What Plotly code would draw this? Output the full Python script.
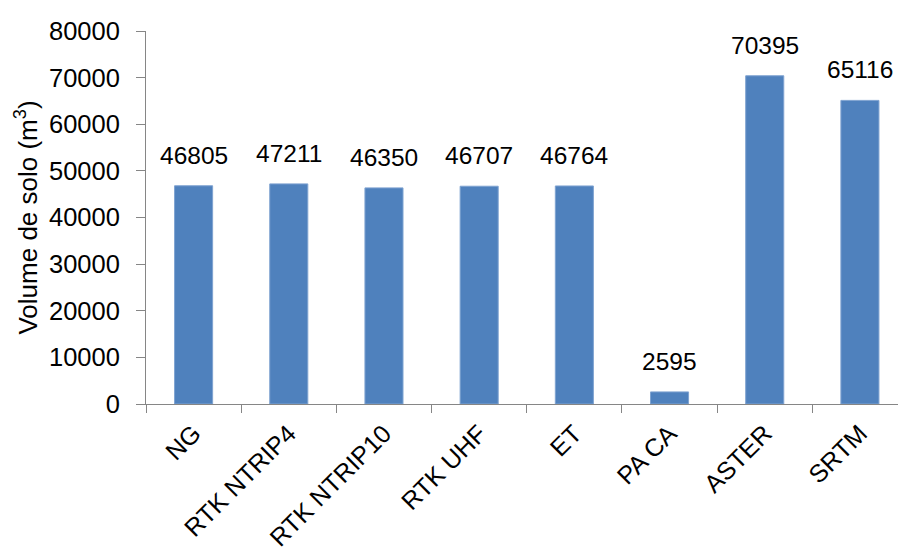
import plotly.graph_objects as go

categories = ["NG", "RTK NTRIP4", "RTK NTRIP10", "RTK UHF", "ET", "PA CA", "ASTER", "SRTM"]
values = [46805, 47211, 46350, 46707, 46764, 2595, 70395, 65116]
y_ticks = [0, 10000, 20000, 30000, 40000, 50000, 60000, 70000, 80000]

bar_color = "#4F81BD"
axis_color = "#868686"
font_family = "Liberation Sans, Arial, sans-serif"

fig = go.Figure()
fig.add_trace(go.Bar(
    x=categories, y=values,
    marker=dict(color=bar_color, line=dict(color="#7FA3D1", width=1)),
    width=0.4,
    hoverinfo="x+y",
))

for c, v in zip(categories, values):
    fig.add_annotation(
        x=c, y=v, text=str(v), showarrow=False,
        yanchor="bottom", yshift=15,
        font=dict(family=font_family, size=24.5, color="#000000"),
    )

fig.update_layout(
    width=898, height=553,
    margin=dict(l=146, r=0, t=31, b=149),
    paper_bgcolor="white", plot_bgcolor="white",
    showlegend=False,
    font=dict(family=font_family, color="#000000"),
)
fig.update_xaxes(
    range=[-0.5, 7.4],
    showline=True, linecolor=axis_color, linewidth=1,
    ticks="outside", tickson="boundaries", ticklen=8, tickcolor=axis_color,
    tickangle=-45, ticklabelstandoff=4,
    tickfont=dict(size=25, family=font_family, color="#000000"),
    showgrid=False, zeroline=False,
)
fig.update_yaxes(
    range=[0, 80000],
    tickvals=y_ticks, ticktext=[str(t) for t in y_ticks],
    showline=True, linecolor=axis_color, linewidth=1,
    ticks="outside", ticklen=9, tickcolor=axis_color,
    ticklabelstandoff=11,
    tickfont=dict(size=25.5, family=font_family, color="#000000"),
    showgrid=False, zeroline=False,
    title=dict(text="Volume de solo (m<sup>3</sup>)", standoff=3,
               font=dict(size=26, family=font_family, color="#000000")),
)

fig.write_html("out.html")
